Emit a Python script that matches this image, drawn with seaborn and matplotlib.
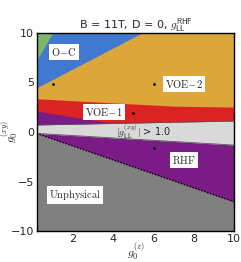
import matplotlib
matplotlib.use("Agg")
import matplotlib.pyplot as plt
import seaborn as sns
import numpy as np

# phase boundaries (g0_z, g0_xy)
green_x = [0.2, 1.0]
green_y = [7.2, 10.0]
blue_x = [0.2, 5.45]
blue_y = [4.45, 10.0]
red_top_x = [0.2, 3.3, 7.0, 10.0]
red_top_y = [3.35, 3.0, 2.6, 2.5]
purple_top_x = [0.2, 4.0]
purple_top_y = [2.1, 0.86]
band_x = [0.2, 10.0]
band_top = [0.7, 1.1]
band_bottom = [-0.15, -1.33]
limit_x = [0.2, 10.0]
limit_y = [-0.15, -7.05]

# sample points
pt_x = [1.0, 6.0, 5.0, 6.0]
pt_y = [4.8, 4.84, 1.87, -1.66]

# labels
lab_txt = [r"$\mathrm{O{-}C}$", r"$\mathrm{VOE{-}2}$", r"$\mathrm{VOE{-}1}$",
           r"$\mathrm{RHF}$", r"$\mathrm{Unphysical}$"]
lab_x = [1.55, 7.5, 3.55, 7.5, 2.1]
lab_y = [8.05, 4.85, 2.0, -2.85, -6.4]

sns.set_style("white")
plt.rcParams["mathtext.fontset"] = "cm"
plt.rcParams["font.family"] = ["DejaVu Sans"]

fig = plt.figure(figsize=(2.41, 2.62), dpi=100)
ax = fig.add_axes([0.152, 0.118, 0.82, 0.757])

orange = "#dca63a"
blue = "#4079cf"
green = "#7db66b"
red = "#dc2324"
purple = "#7a1b86"
lgrey = "#d9d9d9"
dgrey = "#808080"

ax.fill_between(band_x, -10, 10, color=orange, lw=0)
ax.fill_between(blue_x, blue_y, 10, color=blue, lw=0)
ax.fill_between(green_x, green_y, 10, color=green, lw=0)
ax.fill_between(red_top_x, -10, red_top_y, color=red, lw=0)
ax.fill_between(purple_top_x, -10, purple_top_y, color=purple, lw=0)
ax.fill_between(band_x, -10, band_top, color=purple, lw=0)
ax.fill_between(band_x, band_bottom, band_top, color=lgrey, lw=0)
ax.plot(band_x, band_top, color="#555555", lw=0.6)
ax.plot(band_x, band_bottom, color="#555555", lw=0.6)
ax.fill_between(limit_x, -10, limit_y, color=dgrey, lw=0)
sns.lineplot(x=limit_x, y=limit_y, ax=ax, color="black", lw=1.0,
             linestyle=(0, (1, 1.2)))

sns.scatterplot(x=pt_x, y=pt_y, ax=ax, color="black", s=4, linewidth=0, zorder=5)

for t, x, y in zip(lab_txt, lab_x, lab_y):
    ax.text(x, y, t, fontsize=7.5, ha="center", va="center",
            bbox=dict(facecolor="white", edgecolor="none", pad=1.5), zorder=6)
ax.text(5.5, -0.05, r"$|g_{\mathsf{LL}}^{(xy)}|$ > 1.0", fontsize=7,
        ha="center", va="center", zorder=6)

ax.set_xlim(0.2, 10)
ax.set_ylim(-10, 10)
ax.set_xticks([2, 4, 6, 8, 10])
ax.set_yticks([-10, -5, 0, 5, 10])
ax.tick_params(labelsize=8, length=0, pad=2)
for s in ax.spines.values():
    s.set_color("black")
    s.set_linewidth(1.0)
ax.set_xlabel(r"$g_0^{(z)}$", fontsize=8.5)
ax.set_ylabel(r"$g_0^{(xy)}$", fontsize=8.5)
ax.xaxis.set_label_coords(0.5, -0.05)
ax.yaxis.set_label_coords(-0.08, 0.5)
ax.set_title(r"B = 11T, D = 0, $g_{\mathsf{LL}}^{\mathsf{RHF}}$", fontsize=8, pad=3)

fig.savefig("out.png", dpi=100)
